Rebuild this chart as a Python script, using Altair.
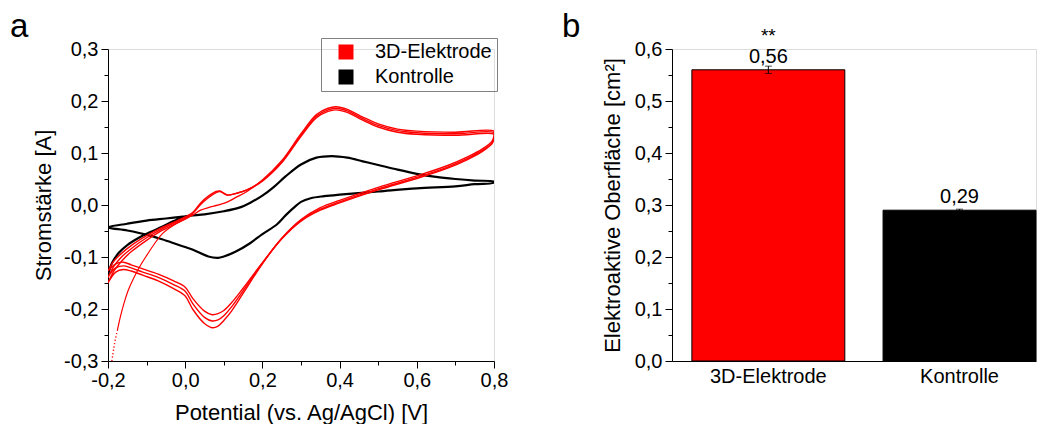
import altair as alt
import pandas as pd

FONT = "Liberation Sans"

# ---------------- data ----------------
series_names = ["3D-Elektrode", "Kontrolle"]
series_colors = ["#ff0000", "#000000"]

# Kontrolle (black) CV path, in scan order
ctrl_x = [-0.2, -0.19, -0.172, -0.15, -0.12, -0.09, -0.06, -0.03, 0.0, 0.05, 0.1, 0.14, 0.17, 0.2,
          0.23, 0.26, 0.3, 0.34, 0.38, 0.42, 0.46, 0.5, 0.55, 0.6, 0.65, 0.7, 0.75, 0.8,
          0.8, 0.75, 0.7, 0.6, 0.5, 0.4, 0.36, 0.325, 0.3, 0.28, 0.26, 0.238, 0.2, 0.169, 0.13,
          0.1, 0.085, 0.06, 0.02, -0.02, -0.06, -0.1, -0.15, -0.2, -0.15, -0.1, -0.05, 0.0]
ctrl_y = [-0.135, -0.112, -0.092, -0.077, -0.063, -0.052, -0.042, -0.031, -0.022, -0.018, -0.012,
          -0.005, 0.005, 0.018, 0.035, 0.055, 0.078, 0.091, 0.094, 0.091, 0.084, 0.077, 0.068,
          0.060, 0.054, 0.050, 0.047, 0.045,
          0.043, 0.040, 0.036, 0.032, 0.026, 0.020, 0.017, 0.013, 0.006, -0.006, -0.020, -0.037,
          -0.056, -0.073, -0.090, -0.099, -0.1015, -0.099, -0.086, -0.076, -0.066, -0.057, -0.049,
          -0.043, -0.036, -0.030, -0.026, -0.022]

# 3D-Elektrode (red): three cycles, forward sweep then reverse sweep
red_up_x = [-0.2, -0.185, -0.165, -0.14, -0.1, -0.06, -0.02, 0.0, 0.02, 0.04, 0.06, 0.08, 0.09,
            0.1, 0.11, 0.13, 0.16, 0.2, 0.25, 0.3, 0.34, 0.37, 0.39, 0.42, 0.46, 0.5, 0.55, 0.6,
            0.7, 0.8]
red_up_y1 = [-0.127, -0.108, -0.093, -0.078, -0.059, -0.043, -0.030, -0.023, -0.014, 0.004, 0.017,
             0.026, 0.027, 0.023, 0.019, 0.022, 0.029, 0.046, 0.081, 0.132, 0.168, 0.180, 0.183,
             0.178, 0.163, 0.150, 0.140, 0.136, 0.134, 0.136]
red_up_y2 = [-0.140, -0.118, -0.100, -0.084, -0.063, -0.046, -0.032, -0.025, -0.016, 0.001, 0.014,
             0.024, 0.026, 0.022, 0.019, 0.022, 0.029, 0.047, 0.083, 0.134, 0.171, 0.183, 0.186,
             0.181, 0.166, 0.153, 0.143, 0.139, 0.137, 0.139]
red_up_y3 = [-0.150, -0.127, -0.108, -0.090, -0.068, -0.049, -0.034, -0.027, -0.019, -0.010, -0.005,
             -0.001, 0.001, 0.003, 0.006, 0.014, 0.026, 0.048, 0.085, 0.137, 0.174, 0.186, 0.189,
             0.184, 0.169, 0.156, 0.146, 0.142, 0.140, 0.142]
red_dn_x = [0.8, 0.795, 0.77, 0.73, 0.68, 0.6, 0.5, 0.4, 0.35, 0.3, 0.25, 0.2, 0.15, 0.12, 0.1,
            0.085, 0.07, 0.05, 0.02, 0.0, -0.03, -0.07, -0.11, -0.14, -0.16, -0.18, -0.2]
red_dn_y1 = [0.128, 0.118, 0.103, 0.087, 0.071, 0.051, 0.029, 0.004, -0.010, -0.031, -0.065, -0.111,
             -0.160, -0.188, -0.203, -0.209, -0.211, -0.204, -0.180, -0.158, -0.146, -0.133,
             -0.123, -0.115, -0.110, -0.113, -0.127]
red_dn_y2 = [0.130, 0.120, 0.105, 0.089, 0.073, 0.053, 0.031, 0.006, -0.008, -0.030, -0.065, -0.112,
             -0.165, -0.196, -0.213, -0.221, -0.223, -0.216, -0.190, -0.166, -0.153, -0.139,
             -0.129, -0.121, -0.117, -0.121, -0.138]
red_dn_y3 = [0.133, 0.123, 0.108, 0.092, 0.076, 0.056, 0.034, 0.009, -0.005, -0.028, -0.064, -0.113,
             -0.170, -0.204, -0.222, -0.233, -0.236, -0.228, -0.201, -0.175, -0.161, -0.146,
             -0.135, -0.127, -0.124, -0.129, -0.150]

# initial transient of the red electrode (sparse points at the bottom)
red_tr_dot_x = [-0.19, -0.186, -0.182, -0.176]
red_tr_dot_y = [-0.300, -0.280, -0.262, -0.242]
red_tr_x = [-0.176, -0.168, -0.159, -0.147, -0.133, -0.115, -0.098, -0.08, -0.059, -0.03, 0.0, 0.02]
red_tr_y = [-0.242, -0.215, -0.190, -0.163, -0.140, -0.115, -0.095, -0.075, -0.055, -0.039,
            -0.027, -0.018]

# bar chart
bar_cats = ["3D-Elektrode", "Kontrolle"]
bar_vals = [0.56, 0.29]
bar_err = [0.007, 0.002]
bar_sig = ["**", ""]

x_ticks_a = [-0.2, -0.1, 0.0, 0.1, 0.2, 0.3, 0.4, 0.5, 0.6, 0.7, 0.8]
y_ticks_a = [-0.3, -0.25, -0.2, -0.15, -0.1, -0.05, 0.0, 0.05, 0.1, 0.15, 0.2, 0.25, 0.3]
y_ticks_b = [0.0, 0.05, 0.1, 0.15, 0.2, 0.25, 0.3, 0.35, 0.4, 0.45, 0.5, 0.55, 0.6]

# ---------------- tables ----------------
ctrl_df = pd.DataFrame({"x": ctrl_x, "y": ctrl_y, "series": "Kontrolle", "cycle": "k",
                        "idx": list(range(len(ctrl_x)))})
red_rows = []
for c, (yu, yd) in enumerate([(red_up_y1, red_dn_y1), (red_up_y2, red_dn_y2), (red_up_y3, red_dn_y3)]):
    xs = red_up_x + red_dn_x
    ys = yu + yd
    for i, (xv, yv) in enumerate(zip(xs, ys)):
        red_rows.append({"x": xv, "y": yv, "series": "3D-Elektrode", "cycle": f"c{c}", "idx": i})
red_df = pd.DataFrame(red_rows)
tr_df = pd.DataFrame({"x": red_tr_x, "y": red_tr_y, "idx": list(range(len(red_tr_x)))})
tr_dot_df = pd.DataFrame({"x": red_tr_dot_x, "y": red_tr_dot_y, "idx": list(range(len(red_tr_dot_x)))})
bar_df = pd.DataFrame({"cat": bar_cats, "val": bar_vals, "err": bar_err, "sig": bar_sig})

# ---------------- helpers ----------------
LABEL = "(datum.value < -0.001 ? '-' : '') + replace(format(abs(datum.value), '.1f'), '.', ',')"


def num_axis(values, test, title, label_pad, title_pad):
    return alt.Axis(
        values=values,
        labelExpr=f"{test} ? {LABEL} : ''",
        tickSize={"condition": {"test": test, "value": 7}, "value": 4},
        tickColor="black", tickWidth=1,
        domainColor="black", domainWidth=1,
        labelColor="black", labelFont=FONT, labelFontSize=20,
        labelOverlap=False, labelFlush=False, labelPadding=label_pad,
        title=title, titleColor="black", titleFont=FONT, titleFontSize=22,
        titleFontWeight="normal", titlePadding=title_pad,
        grid=False,
    )


MAJ10 = "abs(datum.value*10 - round(datum.value*10)) < 0.001"
MAJ5 = "abs(datum.value*5 - round(datum.value*5)) < 0.001"

# ---------------- panel a ----------------
xa = alt.X("x:Q", scale=alt.Scale(domain=[-0.2, 0.8], nice=False, zero=False),
           axis=num_axis(x_ticks_a, MAJ5, "Potential (vs. Ag/AgCl) [V]", 2, 12))
ya = alt.Y("y:Q", scale=alt.Scale(domain=[-0.3, 0.3], nice=False, zero=False),
           axis=num_axis(y_ticks_a, MAJ10, "Stromstärke [A]", 3, 8))
col = alt.Color(
    "series:N",
    scale=alt.Scale(domain=series_names, range=series_colors),
    legend=alt.Legend(
        title=None, orient="none", legendX=213, legendY=-11,
        symbolType="square", symbolSize=56, symbolStrokeWidth=7.5,
        symbolOffset=11, labelOffset=19, padding=4, rowPadding=5, clipHeight=20,
        labelFont=FONT, labelFontSize=20, labelColor="black",
    ),
)

black_layer = alt.Chart(ctrl_df).mark_line(interpolate="catmull-rom", clip=True).encode(
    x=xa, y=ya, color=col, detail="cycle:N", order="idx:Q", strokeWidth=alt.value(2.2))
red_layer = alt.Chart(red_df).mark_line(interpolate="catmull-rom", clip=True).encode(
    x=xa, y=ya, color=col, detail="cycle:N", order="idx:Q", strokeWidth=alt.value(1.4))
tr_layer = alt.Chart(tr_df).mark_line(interpolate="catmull-rom", clip=True, color="#ff0000").encode(
    x=xa, y=ya, order="idx:Q", strokeWidth=alt.value(1.2))
tr_dot_layer = alt.Chart(tr_dot_df).mark_line(clip=True, color="#ff0000", strokeDash=[1.2, 2.2]).encode(
    x=xa, y=ya, order="idx:Q", strokeWidth=alt.value(1.4))
legend_frame = alt.Chart(pd.DataFrame({"f": [0]})).mark_rect(
    fillOpacity=0, stroke="#808080", strokeWidth=1).encode(
    x=alt.value(213.5), x2=alt.value(389.5), y=alt.value(-10.5), y2=alt.value(42.5))
lab_a = alt.Chart(pd.DataFrame({"t": ["a"]})).mark_text(
    font=FONT, fontSize=33, align="left", baseline="alphabetic", color="black").encode(
    text="t:N", x=alt.value(-98), y=alt.value(-12))

panel_a = alt.layer(black_layer, red_layer, tr_layer, tr_dot_layer, legend_frame, lab_a).properties(
    width=386, height=312)

# ---------------- panel b ----------------
base = alt.Chart(bar_df).transform_calculate(
    lo="datum.val - datum.err", hi="datum.val + datum.err",
    lab="replace(format(datum.val, '.2f'), '.', ',')")
xb = alt.X("cat:N", sort=bar_cats,
           scale=alt.Scale(paddingInner=0.2, paddingOuter=0.052, align=1),
           axis=alt.Axis(title=None, ticks=False, labelAngle=0, labelFont=FONT, labelFontSize=20,
                         labelColor="black", domainColor="black", labelPadding=5, grid=False))
yaxis_b = num_axis(y_ticks_b, MAJ10, "Elektroaktive Oberfläche [cm²]", 3, 10)
yscale_b = alt.Scale(domain=[0, 0.6], nice=False, zero=True)


def yb(field):
    return alt.Y(f"{field}:Q", scale=yscale_b, axis=yaxis_b)


bars = base.mark_bar(stroke="black", strokeWidth=1).encode(
    x=xb, y=yb("val"),
    color=alt.Color("cat:N", scale=alt.Scale(domain=bar_cats, range=series_colors), legend=None))
err_rule = base.mark_rule(color="black", strokeWidth=1).encode(x=xb, y=yb("lo"), y2="hi:Q")
err_lo = base.mark_tick(color="black", thickness=1, size=7).encode(x=xb, y=yb("lo"))
err_hi = base.mark_tick(color="black", thickness=1, size=7).encode(x=xb, y=yb("hi"))
val_text = base.mark_text(font=FONT, fontSize=20, baseline="alphabetic", dy=-7, color="black").encode(
    x=xb, y=yb("val"), text="lab:N")
sig_text = base.mark_text(font=FONT, fontSize=19, baseline="alphabetic", dy=-28, color="black").encode(
    x=xb, y=yb("val"), text="sig:N")
lab_b = alt.Chart(pd.DataFrame({"t": ["b"]})).mark_text(
    font=FONT, fontSize=33, align="left", baseline="alphabetic", color="black").encode(
    text="t:N", x=alt.value(-110), y=alt.value(-12))

panel_b = alt.layer(bars, err_rule, err_lo, err_hi, val_text, sig_text, lab_b).properties(
    width=364, height=312)

chart = (
    alt.hconcat(panel_a, panel_b, spacing=178, bounds="flush")
    .resolve_scale(color="independent")
    .properties(padding={"left": 1, "top": 2, "right": 5, "bottom": 0})
    .configure_view(stroke=None)
    .configure(font=FONT)
)

chart.save("out.html", embed_options={"renderer": "svg", "actions": False})
